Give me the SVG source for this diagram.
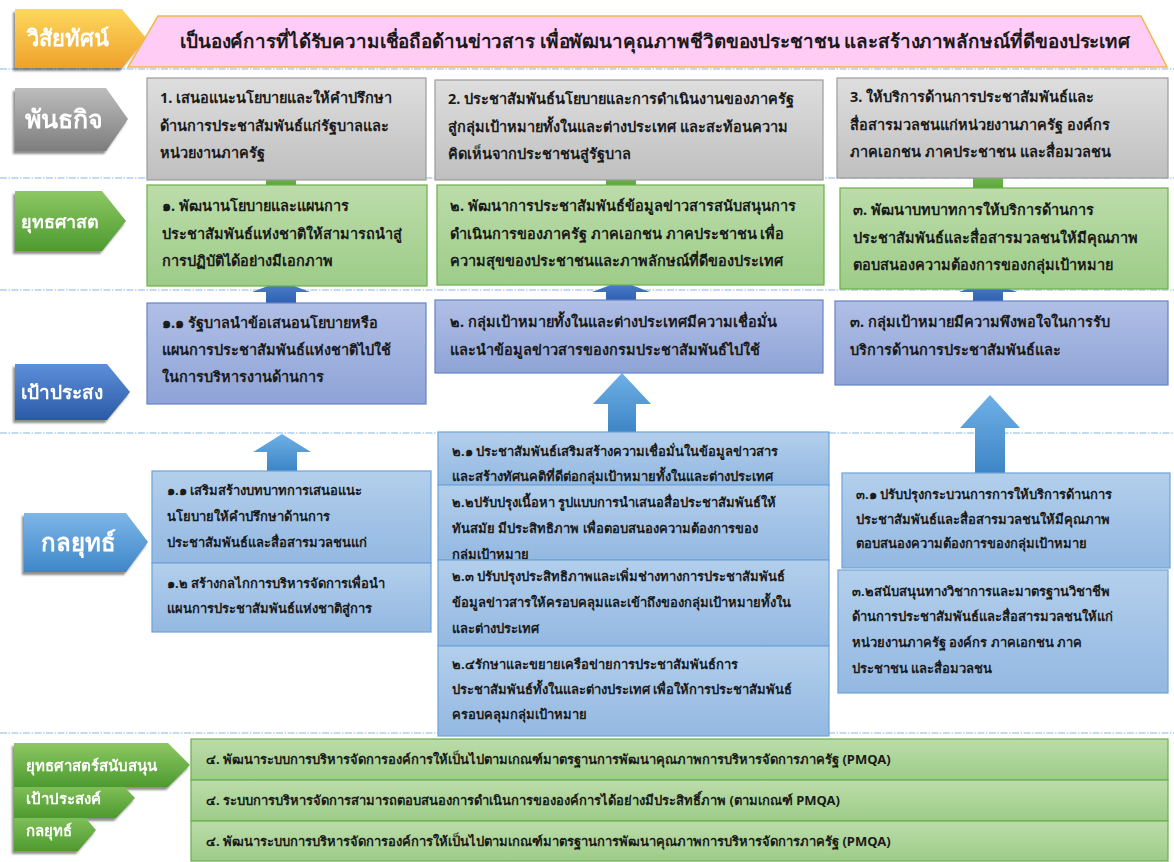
<svg xmlns="http://www.w3.org/2000/svg" width="1174" height="862" viewBox="0 0 1174 862">
<defs>
<linearGradient id="gYel" x1="0" y1="0" x2="0" y2="1"><stop offset="0" stop-color="#fdd85e"/><stop offset="1" stop-color="#efa12a"/></linearGradient>
<linearGradient id="gGryL" x1="0" y1="0" x2="0" y2="1"><stop offset="0" stop-color="#bdbdbd"/><stop offset="1" stop-color="#7d7d7d"/></linearGradient>
<linearGradient id="gGrnL" x1="0" y1="0" x2="0" y2="1"><stop offset="0" stop-color="#8dc863"/><stop offset="1" stop-color="#4d9a2f"/></linearGradient>
<linearGradient id="gBluL" x1="0" y1="0" x2="0" y2="1"><stop offset="0" stop-color="#5d8fd9"/><stop offset="1" stop-color="#2b5aa6"/></linearGradient>
<linearGradient id="gLbL" x1="0" y1="0" x2="0" y2="1"><stop offset="0" stop-color="#7db6e8"/><stop offset="1" stop-color="#3e86c8"/></linearGradient>
<linearGradient id="gGry" x1="0" y1="0" x2="0" y2="1"><stop offset="0" stop-color="#dedede"/><stop offset="1" stop-color="#bfbfbf"/></linearGradient>
<linearGradient id="gGrn" x1="0" y1="0" x2="0" y2="1"><stop offset="0" stop-color="#bcdcaa"/><stop offset="1" stop-color="#9dcc88"/></linearGradient>
<linearGradient id="gPur" x1="0" y1="0" x2="0" y2="1"><stop offset="0" stop-color="#b0bfe6"/><stop offset="1" stop-color="#8ea3d6"/></linearGradient>
<linearGradient id="gLb" x1="0" y1="0" x2="0" y2="1"><stop offset="0" stop-color="#b3cfec"/><stop offset="1" stop-color="#93b8e1"/></linearGradient>
<linearGradient id="gArG" x1="0" y1="0" x2="0" y2="1"><stop offset="0" stop-color="#82c55c"/><stop offset="1" stop-color="#5aa63b"/></linearGradient>
<linearGradient id="gArB" x1="0" y1="0" x2="0" y2="1"><stop offset="0" stop-color="#5082cf"/><stop offset="1" stop-color="#2f60b2"/></linearGradient>
<linearGradient id="gArL" x1="0" y1="0" x2="0" y2="1"><stop offset="0" stop-color="#6fb0e6"/><stop offset="1" stop-color="#3d85c6"/></linearGradient>
<filter id="sh" x="-10%" y="-10%" width="120%" height="130%"><feDropShadow dx="-2" dy="3" stdDeviation="1.2" flood-color="#444" flood-opacity="0.6"/></filter>
</defs>
<style>
text{font-family:"Noto Sans","DejaVu Sans",sans-serif;font-weight:bold;fill:#1a1a1a}
.t{font-size:14.5px}
.b{font-size:13px}
.lab{fill:#fff}
.labs{font-size:15px;fill:#fff}
.dash{stroke:#8ab6e0;stroke-width:1.2;stroke-dasharray:7 1.5 1.5 1.5;fill:none}
.bg{fill:url(#gGry);stroke:#9c9c9c;stroke-width:1.2}
.bgr{fill:url(#gGrn);stroke:#6ab04a;stroke-width:1.2}
.bp{fill:url(#gPur);stroke:#6683c6;stroke-width:1.2}
.bl{fill:url(#gLb);stroke:#6ea3d8;stroke-width:1.2}
</style>
<rect width="1174" height="862" fill="#fff"/>

<g id="separators">
<line class="dash" x1="0" y1="69" x2="1174" y2="69"/>
<line class="dash" x1="0" y1="178" x2="1174" y2="178"/>
<line class="dash" x1="0" y1="290" x2="1174" y2="290"/>
<line class="dash" x1="0" y1="433" x2="437" y2="433"/>
<line class="dash" x1="829" y1="433" x2="1174" y2="433"/>
<line class="dash" x1="0" y1="733" x2="1174" y2="733"/>
</g>

<g id="connectors">
<polygon fill="url(#gArG)" points="281,167 310,178 296,178 296,186 266,186 266,178 252,178"/>
<polygon fill="url(#gArG)" points="621,167 650,178 636,178 636,186 606,186 606,178 592,178"/>
<polygon fill="url(#gArG)" points="988,167 1017,178 1003,178 1003,189 973,189 973,178 959,178"/>
<polygon fill="url(#gArB)" points="281,281 310,292 296,292 296,303 266,303 266,292 252,292"/>
<polygon fill="url(#gArB)" points="621,281 650,292 636,292 636,300 606,300 606,292 592,292"/>
<polygon fill="url(#gArB)" points="988,281 1017,292 1003,292 1003,301 973,301 973,292 959,292"/>
<polygon fill="url(#gArL)" points="282,434 311,452 297,452 297,471 267,471 267,452 253,452"/>
<polygon fill="url(#gArL)" points="622,373 651,404 636,404 636,433 608,433 608,404 593,404"/>
<polygon fill="url(#gArL)" points="990,395 1020,428 1005,428 1005,474 975,474 975,428 960,428"/>
</g>

<g id="vision-label" filter="url(#sh)">
<polygon points="15,9 122,9 146,38 122,68 15,68" fill="url(#gYel)"/>
<text class="lab" x="68" y="46" text-anchor="middle" style="font-size:22px">วิสัยทัศน์</text>
</g>
<g id="vision">
<polygon points="158,16 1141,16 1167,67 128,67" fill="#ffccf6" stroke="#f3b64a" stroke-width="1.5"/>
<text x="180" y="48" font-size="19" textLength="950" lengthAdjust="spacingAndGlyphs">เป็นองค์การที่ได้รับความเชื่อถือด้านข่าวสาร เพื่อพัฒนาคุณภาพชีวิตของประชาชน และสร้างภาพลักษณ์ที่ดีของประเทศ</text>
</g>

<g id="mission-label" filter="url(#sh)">
<polygon points="15,88 106,88 128,119 106,151 15,151" fill="url(#gGryL)"/>
<text class="lab" x="64" y="128" text-anchor="middle" style="font-size:25px">พันธกิจ</text>
</g>
<g id="mission-1">
<rect class="bg" x="147" y="78" width="279" height="102"/>
<text class="t" x="160" y="103">1. เสนอแนะนโยบายและให้คำปรึกษา</text>
<text class="t" x="160" y="131">ด้านการประชาสัมพันธ์แก่รัฐบาลและ</text>
<text class="t" x="160" y="158">หน่วยงานภาครัฐ</text>
</g>
<g id="mission-2">
<rect class="bg" x="435" y="80" width="388" height="100"/>
<text class="t" x="448" y="104">2. ประชาสัมพันธ์นโยบายและการดำเนินงานของภาครัฐ</text>
<text class="t" x="448" y="132">สู่กลุ่มเป้าหมายทั้งในและต่างประเทศ และสะท้อนความ</text>
<text class="t" x="448" y="159">คิดเห็นจากประชาชนสู่รัฐบาล</text>
</g>
<g id="mission-3">
<rect class="bg" x="837" y="78" width="331" height="100"/>
<text class="t" x="850" y="102">3. ให้บริการด้านการประชาสัมพันธ์และ</text>
<text class="t" x="850" y="130">สื่อสารมวลชนแก่หน่วยงานภาครัฐ องค์กร</text>
<text class="t" x="850" y="157">ภาคเอกชน ภาคประชาชน และสื่อมวลชน</text>
</g>

<g id="strategy-label" filter="url(#sh)">
<polygon points="15,191 102,191 126,221 102,251 15,251" fill="url(#gGrnL)"/>
<text class="lab" x="60" y="228" text-anchor="middle" style="font-size:18px">ยุทธศาสต</text>
</g>
<g id="strategy-1">
<rect class="bgr" x="147" y="185" width="280" height="101"/>
<text class="t" x="162" y="211">๑. พัฒนานโยบายและแผนการ</text>
<text class="t" x="162" y="239">ประชาสัมพันธ์แห่งชาติให้สามารถนำสู่</text>
<text class="t" x="162" y="266">การปฏิบัติได้อย่างมีเอกภาพ</text>
</g>
<g id="strategy-2">
<rect class="bgr" x="437" y="185" width="387" height="100"/>
<text class="t" x="450" y="211">๒. พัฒนาการประชาสัมพันธ์ข้อมูลข่าวสารสนับสนุนการ</text>
<text class="t" x="450" y="239">ดำเนินการของภาครัฐ ภาคเอกชน ภาคประชาชน เพื่อ</text>
<text class="t" x="450" y="266">ความสุขของประชาชนและภาพลักษณ์ที่ดีของประเทศ</text>
</g>
<g id="strategy-3">
<rect class="bgr" x="840" y="188" width="328" height="101"/>
<text class="t" x="853" y="215">๓.  พัฒนาบทบาทการให้บริการด้านการ</text>
<text class="t" x="853" y="243">ประชาสัมพันธ์และสื่อสารมวลชนให้มีคุณภาพ</text>
<text class="t" x="853" y="270">ตอบสนองความต้องการของกลุ่มเป้าหมาย</text>
</g>

<g id="goal-label" filter="url(#sh)">
<polygon points="15,364 107,364 130,392 107,420 15,420" fill="url(#gBluL)"/>
<text class="lab" x="62" y="399" text-anchor="middle" style="font-size:19px">เป้าประสง</text>
</g>
<g id="goal-1">
<rect class="bp" x="147" y="303" width="279" height="101"/>
<text class="t" x="162" y="328">๑.๑ รัฐบาลนำข้อเสนอนโยบายหรือ</text>
<text class="t" x="162" y="355">แผนการประชาสัมพันธ์แห่งชาติไปใช้</text>
<text class="t" x="162" y="382">ในการบริหารงานด้านการ</text>
</g>
<g id="goal-2">
<rect class="bp" x="435" y="300" width="388" height="73"/>
<text class="t" x="450" y="327">๒. กลุ่มเป้าหมายทั้งในและต่างประเทศมีความเชื่อมั่น</text>
<text class="t" x="450" y="355">และนำข้อมูลข่าวสารของกรมประชาสัมพันธ์ไปใช้</text>
</g>
<g id="goal-3">
<rect class="bp" x="835" y="301" width="333" height="84"/>
<text class="t" x="850" y="327">๓.  กลุ่มเป้าหมายมีความพึงพอใจในการรับ</text>
<text class="t" x="850" y="355">บริการด้านการประชาสัมพันธ์และ</text>
</g>

<g id="tactic-label" filter="url(#sh)">
<polygon points="24,513 126,513 148,542 126,572 24,572" fill="url(#gLbL)"/>
<text class="lab" x="78" y="551" text-anchor="middle" style="font-size:24px">กลยุทธ์</text>
</g>
<g id="tactic-1-1">
<rect class="bl" x="152" y="471" width="279" height="92"/>
<text class="b" x="167" y="495">๑.๑  เสริมสร้างบทบาทการเสนอแนะ</text>
<text class="b" x="167" y="521">นโยบายให้คำปรึกษาด้านการ</text>
<text class="b" x="167" y="547">ประชาสัมพันธ์และสื่อสารมวลชนแก่</text>
</g>
<g id="tactic-1-2">
<rect class="bl" x="152" y="563" width="279" height="69"/>
<text class="b" x="167" y="588">๑.๒  สร้างกลไกการบริหารจัดการเพื่อนำ</text>
<text class="b" x="167" y="613">แผนการประชาสัมพันธ์แห่งชาติสู่การ</text>
</g>
<g id="tactic-2-1">
<rect class="bl" x="438" y="432" width="391" height="53"/>
<text class="b" x="452" y="456">๒.๑ ประชาสัมพันธ์เสริมสร้างความเชื่อมั่นในข้อมูลข่าวสาร</text>
<text class="b" x="452" y="481">และสร้างทัศนคติที่ดีต่อกลุ่มเป้าหมายทั้งในและต่างประเทศ</text>
</g>
<g id="tactic-2-2">
<rect class="bl" x="438" y="485" width="391" height="75"/>
<text class="b" x="452" y="507">๒.๒ปรับปรุงเนื้อหา รูปแบบการนำเสนอสื่อประชาสัมพันธ์ให้</text>
<text class="b" x="452" y="533">ทันสมัย มีประสิทธิภาพ เพื่อตอบสนองความต้องการของ</text>
<text class="b" x="452" y="559">กลุ่มเป้าหมาย</text>
</g>
<g id="tactic-2-3">
<rect class="bl" x="438" y="560" width="391" height="86"/>
<text class="b" x="452" y="581">๒.๓  ปรับปรุงประสิทธิภาพและเพิ่มช่างทางการประชาสัมพันธ์</text>
<text class="b" x="452" y="607">ข้อมูลข่าวสารให้ครอบคลุมและเข้าถึงของกลุ่มเป้าหมายทั้งใน</text>
<text class="b" x="452" y="633">และต่างประเทศ</text>
</g>
<g id="tactic-2-4">
<rect class="bl" x="438" y="646" width="391" height="90"/>
<text class="b" x="452" y="669">๒.๔รักษาและขยายเครือข่ายการประชาสัมพันธ์การ</text>
<text class="b" x="452" y="694">ประชาสัมพันธ์ทั้งในและต่างประเทศ เพื่อให้การประชาสัมพันธ์</text>
<text class="b" x="452" y="719">ครอบคลุมกลุ่มเป้าหมาย</text>
</g>
<g id="tactic-3-1">
<rect class="bl" x="842" y="473" width="328" height="95"/>
<text class="b" x="856" y="499">๓.๑  ปรับปรุงกระบวนการการให้บริการด้านการ</text>
<text class="b" x="856" y="524">ประชาสัมพันธ์และสื่อสารมวลชนให้มีคุณภาพ</text>
<text class="b" x="856" y="548">ตอบสนองความต้องการของกลุ่มเป้าหมาย</text>
</g>
<g id="tactic-3-2">
<rect class="bl" x="838" y="570" width="330" height="123"/>
<text class="b" x="852" y="596">๓.๒สนับสนุนทางวิชาการและมาตรฐานวิชาชีพ</text>
<text class="b" x="852" y="621">ด้านการประชาสัมพันธ์และสื่อสารมวลชนให้แก่</text>
<text class="b" x="852" y="647">หน่วยงานภาครัฐ องค์กร ภาคเอกชน ภาค</text>
<text class="b" x="852" y="673">ประชาชน และสื่อมวลชน</text>
</g>

<g id="support-labels" filter="url(#sh)">
<polygon points="14,809 78,809 96,830 78,851 14,851" fill="url(#gGrnL)"/>
<text class="labs" x="26" y="836">กลยุทธ์</text>
<polygon points="14,778 116,778 135,798 116,818 14,818" fill="url(#gGrnL)"/>
<text class="labs" x="26" y="804">เป้าประสงค์</text>
<polygon points="14,743 168,743 190,765 168,787 14,787" fill="url(#gGrnL)"/>
<text class="labs" x="26" y="771">ยุทธศาสตร์สนับสนุน</text>
</g>
<g id="support-rows">
<rect class="bgr" x="191" y="739" width="977" height="41"/>
<rect class="bgr" x="191" y="780" width="977" height="41"/>
<rect class="bgr" x="191" y="821" width="977" height="40"/>
<text class="b" x="206" y="764">๔. พัฒนาระบบการบริหารจัดการองค์การให้เป็นไปตามเกณฑ์มาตรฐานการพัฒนาคุณภาพการบริหารจัดการภาครัฐ (PMQA)</text>
<text class="b" x="206" y="805">๔.  ระบบการบริหารจัดการสามารถตอบสนองการดำเนินการขององค์การได้อย่างมีประสิทธิ์ภาพ (ตามเกณฑ์ PMQA)</text>
<text class="b" x="206" y="846">๔.  พัฒนาระบบการบริหารจัดการองค์การให้เป็นไปตามเกณฑ์มาตรฐานการพัฒนาคุณภาพการบริหารจัดการภาครัฐ (PMQA)</text>
</g>
</svg>
